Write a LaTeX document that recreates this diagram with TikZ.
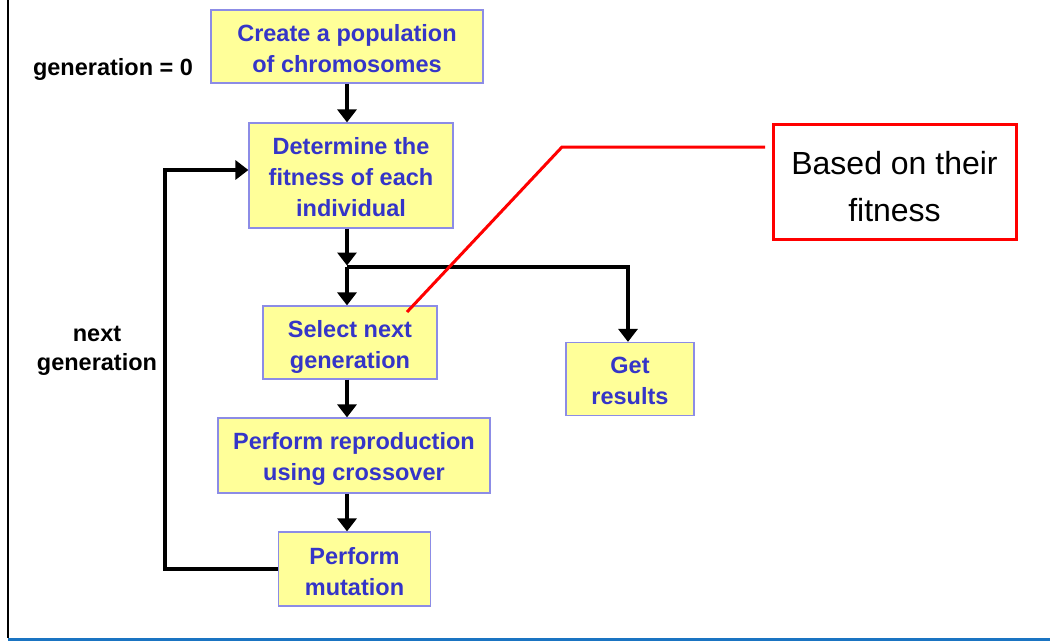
\documentclass[tikz,border=0pt]{standalone}
\usepackage{fontspec}
\setmainfont{Liberation Sans}
\usetikzlibrary{arrows.meta}
\definecolor{boxfill}{HTML}{FFFF99}
\definecolor{boxline}{HTML}{8C8CE6}
\definecolor{boxtext}{HTML}{3535C8}
\definecolor{rule}{HTML}{1A74C2}
% centred lines, drawn a little lower than their box keeps them
\newcommand{\dropped}[2]{\raisebox{-#1}[\height][\depth]{\begin{tabular}{@{}c@{}}#2\end{tabular}}}
\tikzset{
  stepbox/.style={draw=boxline, line width=1.2pt, fill=boxfill, text=boxtext,
    align=center, inner sep=0pt,
    font=\bfseries\fontsize{23.5}{31}\selectfont},
  tag/.style={align=center, inner sep=0pt,
    font=\bfseries\fontsize{23.5}{29}\selectfont},
  flow/.style={line width=3.5pt, -{Triangle[width=19pt,length=13pt]}},
  plain/.style={line width=3.5pt},
  note/.style={draw=red, line width=3pt, fill=white, align=center, inner sep=0pt,
    font=\fontsize{32}{47}\selectfont},
  pointer/.style={draw=red, line width=3pt}
}
\begin{document}
\begin{tikzpicture}[x=1pt,y=-1pt]
\useasboundingbox (0,0) rectangle (1050,641);
% page frame
\draw[line width=2.8pt] (8,-2) -- (8,638);
\draw[rule, line width=3pt] (8,639.5) -- (1052,639.5);

% process boxes
\node[stepbox, minimum width=272pt, minimum height=73pt] (create) at (347,46.5)
  {\dropped{4pt}{Create a population\\of chromosomes}};
\node[stepbox, minimum width=204pt, minimum height=105pt] (fit) at (351,175.5)
  {\dropped{4pt}{Determine the\\fitness of each\\individual}};
\node[stepbox, minimum width=174pt, minimum height=73pt] (sel) at (350,342.5)
  {\dropped{4.5pt}{Select next\\generation}};
\node[stepbox, minimum width=128pt, minimum height=73pt] (res) at (630,379)
  {\dropped{3.5pt}{Get\\results}};
\node[stepbox, minimum width=272pt, minimum height=75pt] (repro) at (354,455.5)
  {\dropped{3.5pt}{Perform reproduction\\using crossover}};
\node[stepbox, minimum width=152pt, minimum height=74pt] (mut) at (354.5,569)
  {\dropped{4.5pt}{Perform\\mutation}};

% side labels
\node[tag] (gen0) at (113,69) {generation = 0};
\node[tag] (nextgen) at (97,350.5) {next\\generation};

% main flow
\coordinate (j) at (347,267);
\coordinate (rx) at (628,267);
\draw[flow] (j |- create.south) -- (j |- fit.north);
\draw[flow] (j |- fit.south) -- ([yshift=1.5pt]j);
\draw[flow] (j) -- (j |- sel.north);
\draw[plain] (j) -- (rx);
\draw[flow] ([yshift=1.75pt]rx) -- (rx |- res.north);
\draw[flow] (j |- sel.south) -- (j |- repro.north);
\draw[flow] (j |- repro.south) -- (j |- mut.north);

% loop back to the fitness step
\coordinate (lp) at (165,170);
\draw[flow] (mut.west) -| (lp) -- (lp -| fit.west);

% annotation
\node[note, minimum width=243pt, minimum height=115pt] (fitnote) at (894.5,181.5)
  {\dropped{7pt}{Based on their\\fitness}};
\coordinate (ptr) at ([xshift=57pt,yshift=30.5pt]sel.center);
\coordinate (bend) at (562,147);
\coordinate (tail) at (765,147);
\draw[pointer] (ptr) -- (bend) -- (tail);
\end{tikzpicture}
\end{document}
